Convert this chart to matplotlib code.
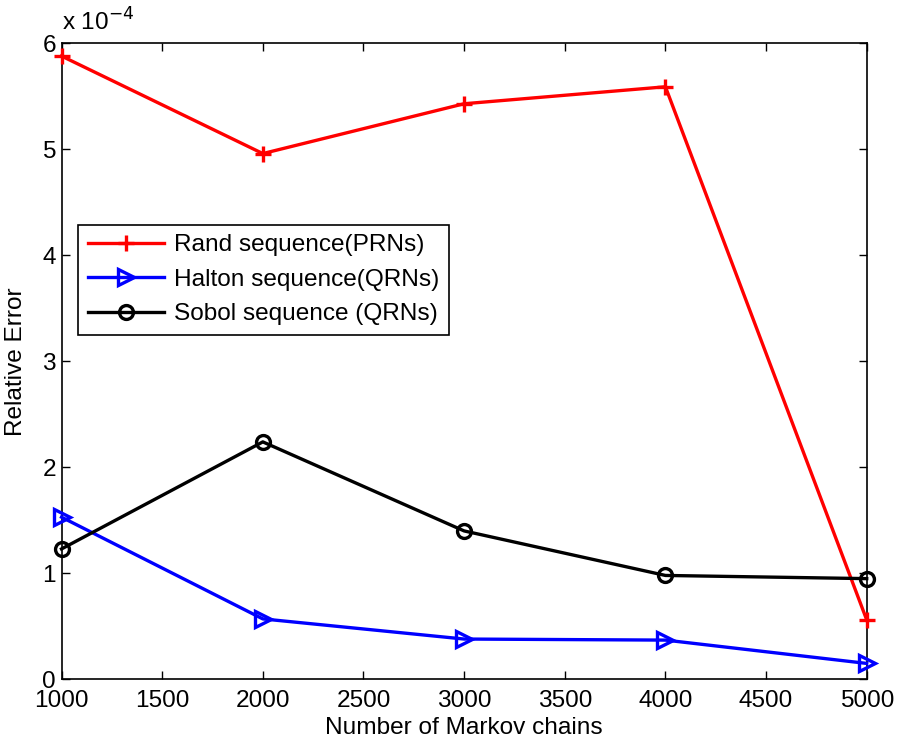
import numpy as np
import matplotlib
matplotlib.use("Agg")
import matplotlib.pyplot as plt
from matplotlib.ticker import FuncFormatter

chains = [1000, 2000, 3000, 4000, 5000]
scale = 1e-4
# relative error, in units of 1e-4
rand_err = [5.88, 4.96, 5.43, 5.59, 0.56]
halton_err = [1.53, 0.57, 0.38, 0.37, 0.15]
sobol_err = [1.23, 2.24, 1.40, 0.98, 0.95]

plt.rcParams["font.family"] = ["Liberation Sans", "DejaVu Sans"]
plt.rc('font', size=17.6)

fig = plt.figure(figsize=(9.02, 7.47), dpi=100)
ax = fig.add_axes([0.0682, 0.0906, 0.8927, 0.8514])

ax.plot(chains, np.array(rand_err) * scale, color="red", lw=2.4, marker="+",
        ms=12, mew=2.4, label="Rand sequence(PRNs)", clip_on=False, zorder=3)
ax.plot(chains, np.array(halton_err) * scale, color="blue", lw=2.4, marker=">",
        ms=11, mew=2.4, mfc="none", label="Halton sequence(QRNs)", clip_on=False, zorder=3)
ax.plot(chains, np.array(sobol_err) * scale, color="black", lw=2.4, marker="o",
        ms=10, mew=2.4, mfc="none", label="Sobol sequence (QRNs)", clip_on=False, zorder=3)

ax.set_xlim(1000, 5000)
ax.set_ylim(0, 6e-4)
ax.set_xticks(range(1000, 5001, 500))
ax.set_yticks(np.arange(0, 7) * scale)
ax.yaxis.set_major_formatter(FuncFormatter(lambda v, p: "%g" % round(v / scale, 6)))
ax.tick_params(direction="in", top=True, right=True, length=6, width=1)
ax.tick_params(axis="x", pad=8)
ax.tick_params(axis="y", pad=4)
for s in ax.spines.values():
    s.set_linewidth(1.2)

ax.text(0.0, 1.012, r"x 10$^{-4}$", transform=ax.transAxes, ha="left", va="bottom")
ax.set_xlabel("Number of Markov chains", labelpad=3)
ax.set_ylabel("Relative Error", labelpad=11)

leg = ax.legend(loc="upper left", bbox_to_anchor=(0.021, 0.715), fancybox=False,
                edgecolor="black", framealpha=1, borderaxespad=0, handlelength=3.1,
                handletextpad=0.4, labelspacing=0.5, borderpad=0.4)
leg.get_frame().set_linewidth(1.2)

fig.savefig("out.png", dpi=100)
